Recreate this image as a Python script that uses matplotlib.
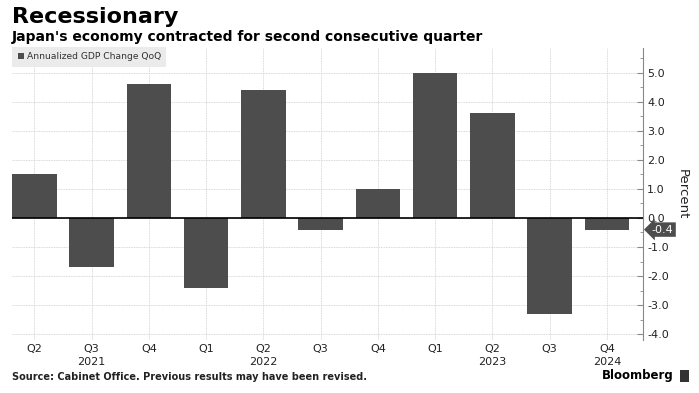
import numpy as np
import matplotlib.pyplot as plt
from matplotlib.patches import Rectangle
from matplotlib.ticker import MultipleLocator
from matplotlib.transforms import blended_transform_factory

quarters = ['Q2', 'Q3', 'Q4', 'Q1', 'Q2', 'Q3', 'Q4', 'Q1', 'Q2', 'Q3', 'Q4']
gdp_change = [1.5, -1.7, 4.6, -2.4, 4.4, -0.4, 1.0, 5.0, 3.6, -3.3, -0.4]
year_labels = ['2021', '2022', '2023', '2024']
year_pos = [1, 4, 8, 10]

bar_color = '#4d4d4d'
text_color = '#222222'

plt.rcParams['font.family'] = ['DejaVu Sans']

fig = plt.figure(figsize=(6.99, 3.93), dpi=100)
ax = fig.add_axes([12 / 699, 1 - 340 / 393, (643 - 12) / 699, 292 / 393])

x = np.arange(len(gdp_change))
bars = ax.bar(x, gdp_change, width=0.78, color=bar_color, zorder=3,
              label='Annualized GDP Change QoQ')

ax.set_xlim(-0.39, 10.63)
ax.set_ylim(-4.2, 5.85)
ax.axhline(0, color='black', lw=1.2, zorder=4)

# axis on the right
ax.yaxis.tick_right()
ax.yaxis.set_label_position('right')
ax.yaxis.set_major_locator(MultipleLocator(1))
ax.yaxis.set_minor_locator(MultipleLocator(0.5))
ax.set_yticks(np.arange(-4, 6, 1))
ax.set_yticklabels(['%.1f' % v for v in np.arange(-4, 6, 1)])
ax.tick_params(axis='y', which='major', direction='in', length=4, color='#888888',
               labelsize=8, labelcolor=text_color, pad=3)
ax.tick_params(axis='y', which='minor', direction='in', length=2, color='#888888')
ax.set_ylabel('Percent', rotation=270, fontsize=9.5, color=text_color, labelpad=14)

ax.set_xticks(x)
ax.set_xticklabels(quarters)
ax.tick_params(axis='x', length=0, labelsize=8, labelcolor=text_color, pad=3)
for pos, yr in zip(year_pos, year_labels):
    ax.text(pos, -0.075, yr, transform=blended_transform_factory(ax.transData, ax.transAxes),
            ha='center', va='center', fontsize=8, color=text_color)

for side in ['top', 'left', 'bottom']:
    ax.spines[side].set_visible(False)
ax.spines['right'].set_color('#888888')
ax.spines['right'].set_linewidth(0.8)

ax.grid(True, which='major', color='#cccccc', linestyle=(0, (1, 1)), lw=0.6, zorder=0)

leg = ax.legend(loc='upper left', bbox_to_anchor=(0, 1.005), frameon=True, fancybox=False,
                facecolor='#ebebeb', edgecolor='none', framealpha=1,
                prop={'size': 6.6},
                handlelength=0.7, handleheight=0.7, handletextpad=0.3,
                borderpad=0.6, borderaxespad=0)
for t in leg.get_texts():
    t.set_color('#333333')

# last value tag
tr = blended_transform_factory(ax.transAxes, ax.transData)
ax.text(1.014, gdp_change[-1], '%.1f' % gdp_change[-1], transform=tr, ha='left', va='center',
        fontsize=8, color='white',
        bbox=dict(boxstyle='larrow,pad=0.2', fc=bar_color, ec='none'), zorder=5)

fig.text(12 / 699, 1 - 17 / 393, 'Recessionary', fontsize=16, fontweight='bold',
         color='black', va='center', ha='left')
fig.text(12 / 699, 1 - 37 / 393, "Japan's economy contracted for second consecutive quarter",
         fontsize=10, fontweight='bold', color='black', va='center', ha='left')
fig.text(12 / 699, 1 - 377 / 393, 'Source: Cabinet Office. Previous results may have been revised.',
         fontsize=7, fontweight='bold', color=text_color, va='center', ha='left')
fig.text(674 / 699, 1 - 376 / 393, 'Bloomberg', fontsize=8.5, fontweight='bold',
         color='black', va='center', ha='right')
fig.patches.append(Rectangle((680 / 699, 1 - 382 / 393), 9 / 699, 12 / 393,
                             transform=fig.transFigure, fc='#333333', ec='none'))

fig.savefig('out.png', dpi=100)
